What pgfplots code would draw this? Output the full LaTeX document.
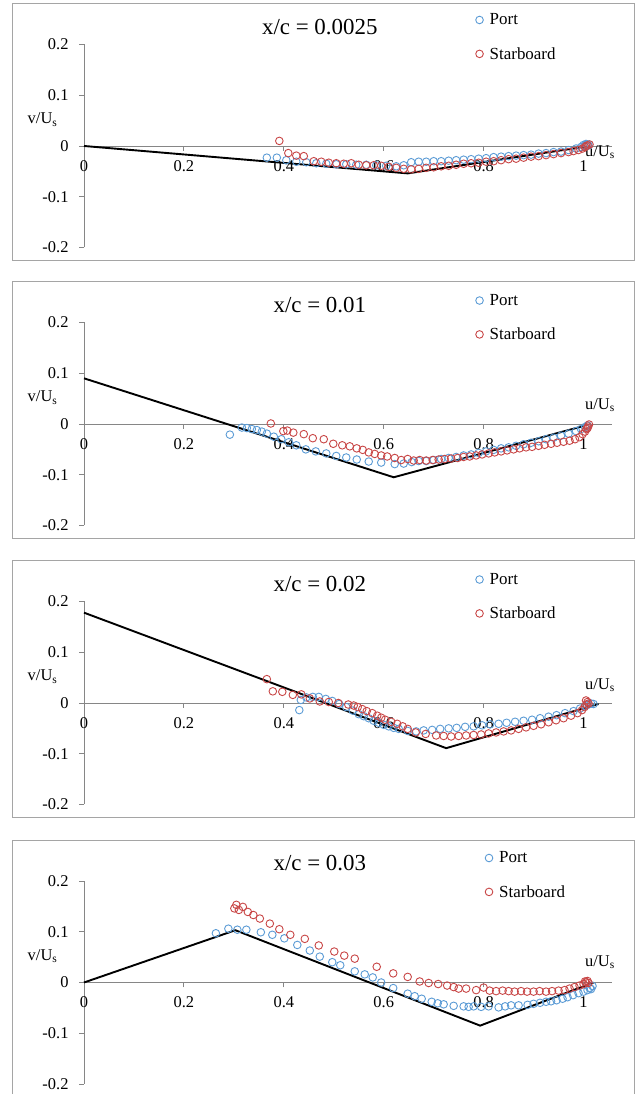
\documentclass[border=0pt]{standalone}
\usepackage{pgfplots}
\pgfplotsset{compat=1.18}
\usepackage{fontspec}
\setmainfont{Liberation Serif}
\definecolor{port}{RGB}{91,155,213}
\definecolor{star}{RGB}{200,70,70}
\definecolor{axisgray}{RGB}{134,134,134}
\definecolor{framegray}{RGB}{165,165,165}
\newcommand\fs{\fontsize{16.5}{19}\selectfont}
\newcommand\fl{\fontsize{17}{19}\selectfont}
\newcommand\ft{\fontsize{23}{27}\selectfont}
\pgfplotsset{
  legend image code/.code={\path (0bp,0bp) (13bp,0bp);\draw[mark repeat=2,mark phase=2,#1] plot coordinates {(0bp,0bp)(5bp,0bp)(10bp,0bp)};},
  panel/.style={
    scale only axis, width=528bp, height=203bp,
    xmin=0, xmax=1.057, ymin=-0.2, ymax=0.2,
    axis x line=middle, axis y line=left,
    axis line style={draw=axisgray, line width=0.9bp, -},
    xtick={0,0.2,0.4,0.6,0.8,1}, xticklabels={0,0.2,0.4,0.6,0.8,1},
    ytick={-0.2,-0.1,0,0.1,0.2}, yticklabels={-0.2,-0.1,0,0.1,0.2},
    hide obscured x ticks=false, hide obscured y ticks=false,
    tick align=outside, major tick length=5bp,
    tick style={draw=axisgray, line width=0.9bp},
    x tick label style={font=\fs, yshift=-6bp},
    y tick label style={font=\fs, xshift=-7bp},
    clip=false, anchor=origin,
    legend style={draw=none, fill=none, font=\fl, row sep=17bp, inner sep=0pt,
      cells={anchor=west}},
    legend cell align=left,
  },
  ps/.style={only marks, mark=o, mark size=3.8bp, draw=port, mark options={line width=0.9bp, draw=port}},
  ss/.style={only marks, mark=o, mark size=3.8bp, draw=star, mark options={line width=0.9bp, draw=star}},
  ref/.style={black, line width=1.9bp, no marks, forget plot},
}
\begin{document}
\begin{tikzpicture}
\useasboundingbox (0bp,0bp) rectangle (637bp,1094bp);
\draw[framegray, line width=1bp] (12.5bp,833bp) rectangle (634bp,1090bp);
\draw[framegray, line width=1bp] (12.5bp,555bp) rectangle (634bp,812bp);
\draw[framegray, line width=1bp] (12.5bp,276bp) rectangle (634bp,533bp);
\draw[framegray, line width=1bp] (12.5bp,-3.5bp) rectangle (634bp,253.5bp);

% ---------------- Panel 1 ----------------
\begin{axis}[panel, at={(84bp,948bp)},
  legend style={at={(axis cs:0.781,0.265)}, anchor=north west}]
\addplot[ref] coordinates {(0,0) (0.648,-0.054) (1.0,-0.002)};
\addplot[ps] coordinates {
(0.366,-0.023) (0.386,-0.023) (0.405,-0.028) (0.425,-0.031) (0.445,-0.032)
(0.465,-0.034) (0.485,-0.035) (0.505,-0.036) (0.525,-0.036) (0.545,-0.037)
(0.565,-0.037) (0.585,-0.038) (0.605,-0.039) (0.625,-0.040) (0.640,-0.038)
(0.655,-0.032) (0.670,-0.031) (0.685,-0.031) (0.700,-0.030) (0.715,-0.030)
(0.730,-0.029) (0.745,-0.028) (0.760,-0.027) (0.775,-0.026) (0.790,-0.025)
(0.805,-0.024) (0.820,-0.022) (0.835,-0.021) (0.850,-0.020) (0.865,-0.019)
(0.880,-0.018) (0.895,-0.017) (0.910,-0.015) (0.925,-0.014) (0.940,-0.012)
(0.955,-0.011) (0.970,-0.008) (0.985,-0.005) (0.995,-0.002) (1.000,0.002)
(1.005,0.004) (1.008,0.003) (1.002,0.000) (1.010,0.001)};
\addplot[ss] coordinates {
(0.391,0.010) (0.409,-0.014) (0.425,-0.019) (0.440,-0.020) (0.460,-0.030)
(0.475,-0.031) (0.490,-0.033) (0.505,-0.034) (0.520,-0.035) (0.535,-0.034)
(0.550,-0.037) (0.565,-0.038) (0.580,-0.038) (0.595,-0.039) (0.610,-0.041)
(0.625,-0.043) (0.640,-0.045) (0.655,-0.046) (0.670,-0.045) (0.685,-0.043)
(0.700,-0.042) (0.715,-0.040) (0.730,-0.039) (0.745,-0.037) (0.760,-0.035)
(0.775,-0.034) (0.790,-0.033) (0.805,-0.031) (0.820,-0.030) (0.835,-0.028)
(0.850,-0.026) (0.865,-0.025) (0.880,-0.023) (0.895,-0.021) (0.910,-0.020)
(0.925,-0.018) (0.940,-0.016) (0.955,-0.014) (0.970,-0.012) (0.980,-0.010)
(0.990,-0.008) (0.998,-0.005) (1.003,-0.002) (1.008,0.001) (1.012,0.003)
(1.005,0.000)};
\legend{Port,Starboard}
\node[font=\ft] at (axis cs:0.472,0.235) {x/c = 0.0025};
\node[font=\fs] at (axis cs:-0.083,0.052) {v/U\textsubscript{s}};
\node[font=\fs] at (axis cs:1.033,-0.012) {u/U\textsubscript{s}};
\end{axis}

% ---------------- Panel 2 ----------------
\begin{axis}[panel, at={(84bp,670bp)},
  legend style={at={(axis cs:0.781,0.26)}, anchor=north west}]
\addplot[ref] coordinates {(0,0.090) (0.620,-0.105) (1.0,-0.004)};
\addplot[ps] coordinates {
(0.292,-0.021) (0.316,-0.007) (0.326,-0.008) (0.336,-0.010) (0.346,-0.012)
(0.356,-0.015) (0.366,-0.019) (0.380,-0.025) (0.395,-0.030) (0.410,-0.036)
(0.425,-0.042) (0.444,-0.050) (0.464,-0.054) (0.485,-0.058) (0.505,-0.063)
(0.525,-0.066) (0.546,-0.070) (0.570,-0.074) (0.595,-0.076) (0.622,-0.079)
(0.640,-0.078) (0.656,-0.075) (0.670,-0.073) (0.685,-0.073) (0.700,-0.071)
(0.715,-0.069) (0.730,-0.067) (0.745,-0.065) (0.760,-0.062) (0.775,-0.060)
(0.790,-0.057) (0.805,-0.054) (0.820,-0.051) (0.835,-0.048) (0.850,-0.046)
(0.865,-0.043) (0.880,-0.040) (0.895,-0.037) (0.910,-0.034) (0.925,-0.030)
(0.940,-0.027) (0.955,-0.023) (0.970,-0.019) (0.985,-0.014) (0.995,-0.010)
(1.003,-0.006) (1.008,-0.003)};
\addplot[ss] coordinates {
(0.374,0.001) (0.399,-0.014) (0.407,-0.013) (0.419,-0.017) (0.440,-0.020)
(0.458,-0.028) (0.480,-0.030) (0.499,-0.039) (0.517,-0.042) (0.532,-0.044)
(0.546,-0.048) (0.558,-0.051) (0.570,-0.056) (0.582,-0.059) (0.595,-0.062)
(0.607,-0.064) (0.622,-0.067) (0.635,-0.071) (0.648,-0.069) (0.660,-0.072)
(0.672,-0.071) (0.685,-0.072) (0.698,-0.071) (0.710,-0.070) (0.722,-0.069)
(0.735,-0.068) (0.748,-0.067) (0.760,-0.065) (0.772,-0.064) (0.785,-0.062)
(0.797,-0.060) (0.810,-0.058) (0.822,-0.056) (0.835,-0.054) (0.847,-0.052)
(0.860,-0.050) (0.872,-0.048) (0.885,-0.046) (0.897,-0.045) (0.910,-0.043)
(0.922,-0.041) (0.935,-0.039) (0.947,-0.037) (0.960,-0.035) (0.972,-0.033)
(0.983,-0.030) (0.992,-0.026) (0.998,-0.020) (1.003,-0.015) (1.006,-0.010)
(1.009,-0.005) (1.011,-0.001) (1.008,-0.008)};
\legend{Port,Starboard}
\node[font=\ft] at (axis cs:0.472,0.235) {x/c = 0.01};
\node[font=\fs] at (axis cs:-0.083,0.052) {v/U\textsubscript{s}};
\node[font=\fs] at (axis cs:1.033,0.037) {u/U\textsubscript{s}};
\end{axis}

% ---------------- Panel 3 ----------------
\begin{axis}[panel, at={(84bp,391bp)},
  legend style={at={(axis cs:0.781,0.26)}, anchor=north west}]
\addplot[ref] coordinates {(0,0.178) (0.725,-0.089) (1.030,-0.002)};
\addplot[ps] coordinates {
(0.431,-0.014) (0.434,0.006) (0.445,0.011) (0.458,0.012) (0.470,0.012)
(0.484,0.008) (0.497,0.004) (0.511,-0.002) (0.525,-0.008) (0.538,-0.015)
(0.550,-0.022) (0.560,-0.026) (0.570,-0.030) (0.580,-0.035) (0.590,-0.039)
(0.600,-0.043) (0.610,-0.046) (0.620,-0.049) (0.630,-0.051) (0.648,-0.055)
(0.665,-0.056) (0.680,-0.054) (0.697,-0.053) (0.713,-0.051) (0.730,-0.050)
(0.746,-0.049) (0.763,-0.047) (0.780,-0.046) (0.797,-0.044) (0.813,-0.042)
(0.830,-0.041) (0.846,-0.039) (0.863,-0.037) (0.880,-0.035) (0.897,-0.033)
(0.913,-0.030) (0.930,-0.027) (0.946,-0.024) (0.963,-0.020) (0.980,-0.016)
(0.993,-0.011) (1.003,-0.006) (1.010,-0.003) (1.015,-0.001) (1.020,-0.002)};
\addplot[ss] coordinates {
(0.366,0.047) (0.378,0.023) (0.397,0.022) (0.418,0.016) (0.435,0.017)
(0.452,0.009) (0.472,0.003) (0.490,0.002) (0.509,0.000) (0.529,-0.003)
(0.540,-0.005) (0.548,-0.008) (0.557,-0.012) (0.566,-0.016) (0.577,-0.020)
(0.587,-0.025) (0.595,-0.029) (0.603,-0.033) (0.615,-0.037) (0.627,-0.041)
(0.638,-0.046) (0.648,-0.051) (0.664,-0.058) (0.684,-0.061) (0.705,-0.064)
(0.720,-0.065) (0.735,-0.066) (0.750,-0.065) (0.765,-0.064) (0.780,-0.063)
(0.795,-0.062) (0.810,-0.060) (0.825,-0.058) (0.840,-0.056) (0.855,-0.054)
(0.870,-0.051) (0.885,-0.048) (0.900,-0.045) (0.915,-0.042) (0.930,-0.038)
(0.945,-0.034) (0.960,-0.030) (0.975,-0.025) (0.988,-0.020) (0.997,-0.014)
(1.002,-0.008) (1.006,-0.003) (1.008,0.002) (1.005,0.005) (1.010,-0.001)};
\legend{Port,Starboard}
\node[font=\ft] at (axis cs:0.472,0.235) {x/c = 0.02};
\node[font=\fs] at (axis cs:-0.083,0.052) {v/U\textsubscript{s}};
\node[font=\fs] at (axis cs:1.033,0.035) {u/U\textsubscript{s}};
\end{axis}

% ---------------- Panel 4 ----------------
\begin{axis}[panel, at={(84bp,111.5bp)},
  legend style={at={(axis cs:0.800,0.262)}, anchor=north west}]
\addplot[ref] coordinates {(0,0) (0.303,0.103) (0.793,-0.085) (1.020,0.000)};
\addplot[ps] coordinates {
(0.264,0.097) (0.289,0.106) (0.307,0.104) (0.325,0.104) (0.354,0.099)
(0.377,0.094) (0.401,0.087) (0.427,0.074) (0.452,0.063) (0.472,0.051)
(0.497,0.040) (0.513,0.034) (0.542,0.022) (0.562,0.016) (0.578,0.010)
(0.595,0.000) (0.619,-0.011) (0.648,-0.022) (0.662,-0.027) (0.676,-0.032)
(0.696,-0.038) (0.708,-0.041) (0.720,-0.043) (0.740,-0.046) (0.760,-0.047)
(0.770,-0.048) (0.780,-0.047) (0.795,-0.048) (0.810,-0.047) (0.830,-0.049)
(0.843,-0.047) (0.855,-0.045) (0.870,-0.045) (0.888,-0.044) (0.900,-0.042)
(0.913,-0.040) (0.925,-0.038) (0.935,-0.037) (0.946,-0.035) (0.958,-0.032)
(0.968,-0.029) (0.979,-0.025) (0.990,-0.021) (1.000,-0.018) (1.008,-0.015)
(1.013,-0.011) (1.018,-0.007) (1.015,-0.013)};
\addplot[ss] coordinates {
(0.301,0.146) (0.305,0.153) (0.310,0.143) (0.318,0.149) (0.328,0.139)
(0.339,0.133) (0.352,0.126) (0.372,0.116) (0.391,0.105) (0.413,0.094)
(0.442,0.086) (0.470,0.073) (0.501,0.061) (0.521,0.053) (0.542,0.047)
(0.586,0.031) (0.619,0.018) (0.648,0.011) (0.672,0.002) (0.690,-0.001)
(0.709,-0.003) (0.727,-0.006) (0.740,-0.009) (0.750,-0.012) (0.765,-0.012)
(0.785,-0.015) (0.800,-0.010) (0.812,-0.016) (0.825,-0.017) (0.838,-0.016)
(0.850,-0.017) (0.862,-0.018) (0.875,-0.017) (0.887,-0.018) (0.900,-0.018)
(0.912,-0.017) (0.925,-0.018) (0.937,-0.017) (0.950,-0.016) (0.962,-0.015)
(0.972,-0.012) (0.982,-0.009) (0.992,-0.006) (1.000,-0.003) (1.005,0.000)
(1.008,0.003) (1.003,0.002) (1.010,-0.001)};
\legend{Port,Starboard}
\node[font=\ft] at (axis cs:0.472,0.235) {x/c = 0.03};
\node[font=\fs] at (axis cs:-0.083,0.052) {v/U\textsubscript{s}};
\node[font=\fs] at (axis cs:1.033,0.040) {u/U\textsubscript{s}};
\end{axis}
\end{tikzpicture}
\end{document}
